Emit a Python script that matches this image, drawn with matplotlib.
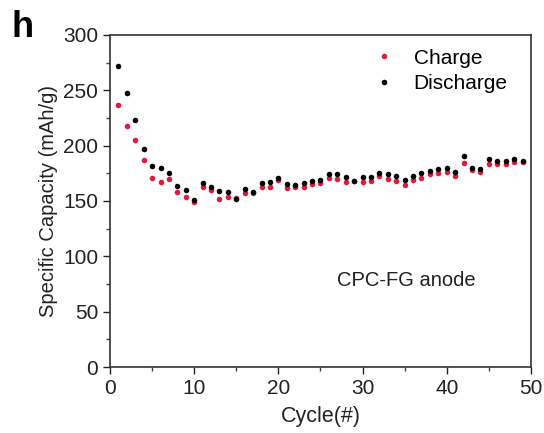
import matplotlib
matplotlib.use("Agg")
import matplotlib.pyplot as plt
from matplotlib.ticker import MultipleLocator

plt.rcParams['font.family'] = ['Liberation Sans', 'DejaVu Sans']

cycles = list(range(1, 50))
charge = [237, 218, 205, 187, 171, 167, 170, 158, 154, 149,
          162.6, 160, 152, 154, 153, 157, 157, 163, 163, 169,
          162, 163, 162.7, 165, 166, 170.7, 170, 166.8, 168, 167,
          167.7, 173, 170, 167.7, 164.4, 169, 170.4, 174.3, 175, 175.9,
          173, 184.3, 178, 175.9, 183.7, 183, 183.4, 185, 185.6]
discharge = [272, 248, 223, 197, 182, 180, 175, 164, 160, 151,
             166.5, 162.6, 159, 158, 152, 161, 158.5, 166, 167, 170.4,
             165, 164.7, 166, 168.3, 169, 174.6, 174, 171.6, 168.3, 171.6,
             172, 175, 174, 173, 168.6, 172.8, 175, 177.3, 178.6, 180,
             176, 191, 179.8, 178.6, 188, 186, 186.4, 188, 186.4]

fig = plt.figure(figsize=(5.44, 4.33), dpi=100)
ax = fig.add_axes([0.2022, 0.1524, 0.7738, 0.7668])

red = '#dc1c3c'
ax.plot(cycles, charge, 'o', color=red, markersize=4, markeredgewidth=0, label='Charge')
ax.plot(cycles, discharge, 'o', color='black', markersize=4, markeredgewidth=0, label='Discharge')

ax.set_xlim(0, 50)
ax.set_ylim(0, 300)
ax.xaxis.set_major_locator(MultipleLocator(10))
ax.xaxis.set_minor_locator(MultipleLocator(5))
ax.yaxis.set_major_locator(MultipleLocator(50))
ax.yaxis.set_minor_locator(MultipleLocator(25))
ax.tick_params(which='major', direction='out', length=5, width=1, labelsize=15, colors='#222222')
ax.tick_params(which='minor', direction='out', length=3, width=1, colors='#444444')
for s in ax.spines.values():
    s.set_linewidth(1.2)
    s.set_color('#333333')

ax.set_xlabel('Cycle(#)', fontsize=15.5, color='#222222', labelpad=6)
ax.set_ylabel('Specific Capacity (mAh/g)', fontsize=14.5, color='#222222', labelpad=4)

leg = ax.legend(loc='upper right', bbox_to_anchor=(0.979, 1.003), frameon=False, fontsize=15,
                handletextpad=0.9, handlelength=1.0, borderaxespad=0.3, labelspacing=0.3)

ax.text(35.2, 78, 'CPC-FG anode', fontsize=14.5, ha='center', va='center', color='#222222')
fig.text(0.022, 0.978, 'h', fontsize=26, fontweight='bold', ha='left', va='top')

fig.savefig('out.png', dpi=100)
